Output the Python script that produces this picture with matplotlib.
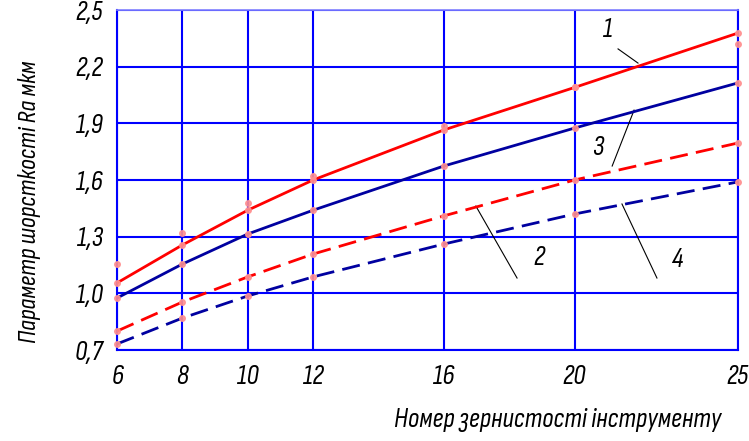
import numpy as np
import matplotlib.pyplot as plt

# номер зернистості
x = [6, 8, 10, 12, 16, 20, 25]
# криві Ra, мкм
ra1 = [1.055, 1.256, 1.44, 1.60, 1.865, 2.09, 2.378]
ra2 = [0.80, 0.954, 1.087, 1.208, 1.41, 1.60, 1.796]
ra3 = [0.975, 1.155, 1.314, 1.44, 1.674, 1.875, 2.114]
ra4 = [0.732, 0.869, 0.986, 1.087, 1.261, 1.42, 1.59]
# експериментальні точки для кривої 1
ra1_exp = [1.155, 1.32, 1.478, 1.62, 1.886, 2.09, 2.32]

xticks = [6, 8, 10, 12, 16, 20, 25]
yticks = [0.7, 1.0, 1.3, 1.6, 1.9, 2.2, 2.5]
ylabels = ['0,7', '1,0', '1,3', '1,6', '1,9', '2,2', '2,5']

font = {'family': ['Sofia Sans Condensed', 'DejaVu Sans'], 'style': 'italic'}

fig = plt.figure(figsize=(7.49, 4.41), dpi=100)
ax = fig.add_axes([117/749, 1-350/441, 621/749, 340/441])

ax.set_xlim(6, 25)
ax.set_ylim(0.7, 2.5)
ax.set_xticks(xticks)
ax.set_xticklabels([str(v) for v in xticks], fontdict=font, fontsize=20)
ax.set_yticks(yticks)
ax.set_yticklabels(ylabels, fontdict=font, fontsize=20)
ax.tick_params(length=0)
ax.tick_params(axis='x', pad=11)
ax.tick_params(axis='y', pad=10)
ax.grid(True, color='#0000ff', lw=1.5)
ax.set_axisbelow(True)
for s in ['left', 'bottom', 'right']:
    ax.spines[s].set_color('#0000ff')
    ax.spines[s].set_linewidth(1.5)
ax.spines['top'].set_color('#8080ff')
ax.spines['top'].set_linewidth(1.2)

mk = dict(marker='o', ms=4, mfc='#ff9090', mec='#ff9090', alpha=0.9)

ax.plot(x, ra1, color='#ff0000', lw=2, zorder=3)
ax.plot(x, ra3, color='#0000a0', lw=2, zorder=3)
ax.plot(x, ra2, color='#ff0000', lw=2, dashes=(6.5, 3), zorder=3)
ax.plot(x, ra4, color='#0000a0', lw=2, dashes=(6.5, 3), zorder=3)
for yy in [ra1, ra2, ra3, ra4, ra1_exp]:
    ax.plot(x, yy, ls='none', zorder=4, clip_on=False, **mk)

# позначення кривих
ax.text(20.87, 2.394, '1', fontdict=font, fontsize=20, ha='left', va='center')
ax.plot([21.33, 21.94], [2.294, 2.219], color='k', lw=0.8)
ax.text(20.53, 1.77, '3', fontdict=font, fontsize=20, ha='left', va='center')
ax.plot([21.15, 21.82], [1.674, 1.97], color='k', lw=0.8)
ax.text(18.73, 1.187, '2', fontdict=font, fontsize=20, ha='left', va='center')
ax.plot([16.98, 18.24], [1.462, 1.081], color='k', lw=0.8)
ax.text(22.98, 1.176, '4', fontdict=font, fontsize=20, ha='left', va='center')
ax.plot([21.45, 22.52], [1.473, 1.081], color='k', lw=0.8)

fig.text(558/749, 1-420/441, 'Номер зернистості інструменту', fontdict=font,
         fontsize=20, ha='center', va='center')
fig.text(30/749, 1-202/441, 'Параметр шорсткості Ra мкм', fontdict=font,
         fontsize=19, ha='center', va='center', rotation=90)

fig.savefig('out.png', dpi=100)
